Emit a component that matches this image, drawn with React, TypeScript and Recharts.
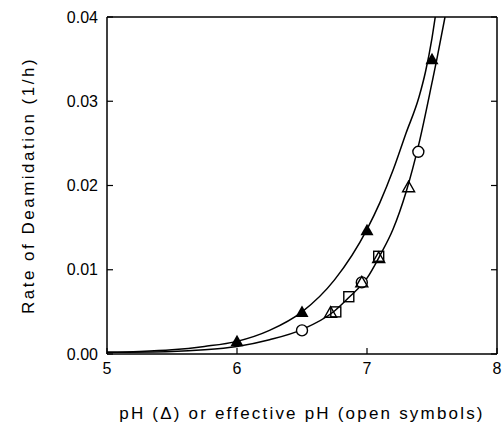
import { ComposedChart, Line, Scatter, XAxis, YAxis, Label } from 'recharts';

// axis ticks
const xTicks = [5, 6, 7, 8];
const yTicks = [0, 0.01, 0.02, 0.03, 0.04];

// fitted curve through pH data (filled triangles)
const phCurveX = [5.0, 5.25, 5.5, 5.75, 6.0, 6.25, 6.5, 6.75, 7.0, 7.1, 7.2, 7.3, 7.4, 7.45, 7.5, 7.525];
const phCurveY = [0.0002, 0.0003, 0.0005, 0.0009, 0.0015, 0.0028, 0.005, 0.0088, 0.0148, 0.018, 0.0218, 0.0262, 0.0305, 0.0335, 0.0375, 0.04];

// fitted curve through effective pH data (open symbols)
const effCurveX = [5.0, 5.5, 5.75, 6.0, 6.25, 6.5, 6.75, 6.86, 7.0, 7.1, 7.2, 7.3, 7.4, 7.5, 7.54, 7.6];
const effCurveY = [0.0002, 0.0003, 0.0005, 0.0009, 0.0017, 0.0029, 0.0051, 0.0067, 0.009, 0.0117, 0.0148, 0.0192, 0.025, 0.0322, 0.0352, 0.04];

// measured points
const filledTriX = [6.0, 6.5, 7.0, 7.5];
const filledTriY = [0.0015, 0.005, 0.0147, 0.035];

const openCircleX = [6.5, 6.96, 7.395];
const openCircleY = [0.0028, 0.0085, 0.024];

const openTriX = [6.72, 6.96, 7.09, 7.32];
const openTriY = [0.0049, 0.0085, 0.0114, 0.0198];

const openSquareX = [6.76, 6.86, 7.09];
const openSquareY = [0.005, 0.0068, 0.0116];

const zip = (xs: number[], ys: number[]) => xs.map((x, i) => ({ x, y: ys[i] }));

const phCurve = zip(phCurveX, phCurveY);
const effCurve = zip(effCurveX, effCurveY);
const filledTri = zip(filledTriX, filledTriY);
const openCircle = zip(openCircleX, openCircleY);
const openTri = zip(openTriX, openTriY);
const openSquare = zip(openSquareX, openSquareY);

const INK = '#000';
const FONT = '"Liberation Sans", Arial, sans-serif';

const FilledTriangle = ({ cx, cy }: any) => (
  <polygon points={`${cx},${cy - 6.5} ${cx - 6.5},${cy + 5} ${cx + 6.5},${cy + 5}`} fill={INK} />
);

const OpenTriangle = ({ cx, cy }: any) => (
  <polygon
    points={`${cx},${cy - 6} ${cx - 6},${cy + 4.5} ${cx + 6},${cy + 4.5}`}
    fill="none"
    stroke={INK}
    strokeWidth={1.4}
  />
);

const OpenCircle = ({ cx, cy }: any) => (
  <circle cx={cx} cy={cy} r={5.5} fill="#fff" stroke={INK} strokeWidth={1.4} />
);

const OpenSquare = ({ cx, cy }: any) => (
  <rect x={cx - 5} y={cy - 5} width={10} height={10} fill="none" stroke={INK} strokeWidth={1.4} />
);

const tickStyle = { fill: INK, fontSize: 16, fontFamily: FONT };
const axisLine = { stroke: INK, strokeWidth: 1.5 };

export default function App() {
  return (
    <div style={{ position: 'absolute', left: 0, top: 0, background: '#fff' }}>
      <ComposedChart width={502} height={428} margin={{ top: 16, right: 4, bottom: 24, left: 0 }}>
        <XAxis
          dataKey="x"
          type="number"
          domain={[5, 8]}
          ticks={xTicks}
          allowDataOverflow
          height={50}
          tickSize={-6}
          tickMargin={15}
          tick={tickStyle}
          axisLine={axisLine}
          tickLine={{ stroke: INK, strokeWidth: 1.2 }}
        >
          <Label
            value="pH (Δ) or effective pH (open symbols)"
            position="bottom"
            offset={3}
            style={{ fill: INK, fontSize: 17, fontFamily: FONT, letterSpacing: 2.2 }}
          />
        </XAxis>
        <XAxis
          xAxisId="top"
          orientation="top"
          type="number"
          domain={[5, 8]}
          ticks={xTicks}
          allowDataOverflow
          height={1}
          tickSize={-6}
          tickFormatter={() => ''}
          axisLine={axisLine}
          tickLine={{ stroke: INK, strokeWidth: 1.2 }}
        />
        <YAxis
          dataKey="y"
          type="number"
          domain={[0, 0.04]}
          ticks={yTicks}
          allowDataOverflow
          width={107}
          tickSize={-6}
          tickMargin={15}
          tickFormatter={(v: number) => v.toFixed(2)}
          tick={tickStyle}
          axisLine={axisLine}
          tickLine={{ stroke: INK, strokeWidth: 1.2 }}
        >
          <Label
            value="Rate of Deamidation (1/h)"
            angle={-90}
            position="insideLeft"
            offset={28}
            style={{ fill: INK, fontSize: 17, fontFamily: FONT, letterSpacing: 2.5, textAnchor: 'middle' }}
          />
        </YAxis>
        <YAxis
          yAxisId="right"
          orientation="right"
          type="number"
          domain={[0, 0.04]}
          ticks={yTicks}
          allowDataOverflow
          width={1}
          tickSize={-6}
          tickFormatter={() => ''}
          axisLine={axisLine}
          tickLine={{ stroke: INK, strokeWidth: 1.2 }}
        />
        <Line
          data={phCurve}
          dataKey="y"
          type="monotone"
          stroke={INK}
          strokeWidth={1.5}
          dot={false}
          activeDot={false}
          isAnimationActive={false}
        />
        <Line
          data={effCurve}
          dataKey="y"
          type="monotone"
          stroke={INK}
          strokeWidth={1.5}
          dot={false}
          activeDot={false}
          isAnimationActive={false}
        />
        <Scatter data={openSquare} dataKey="y" shape={OpenSquare} isAnimationActive={false} />
        <Scatter data={openCircle} dataKey="y" shape={OpenCircle} isAnimationActive={false} />
        <Scatter data={openTri} dataKey="y" shape={OpenTriangle} isAnimationActive={false} />
        <Scatter data={filledTri} dataKey="y" shape={FilledTriangle} isAnimationActive={false} />
      </ComposedChart>
    </div>
  );
}
